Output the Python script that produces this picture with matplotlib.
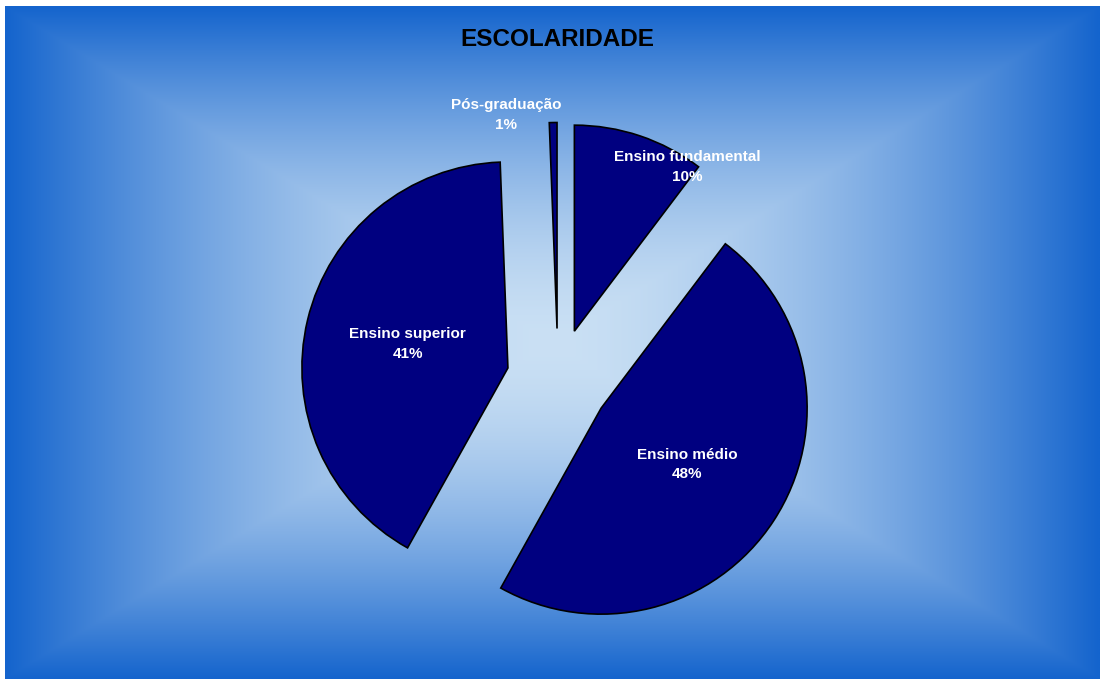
import numpy as np
import matplotlib
import matplotlib.pyplot as plt

matplotlib.use('Agg')
plt.rcParams['font.family'] = ['Liberation Sans', 'DejaVu Sans']

# dados (sentido horário a partir do topo)
categorias = ['Ensino fundamental', 'Ensino médio', 'Ensino superior', 'Pós-graduação']
valores = [10.3, 47.8, 41.3, 0.6]
percentuais = ['10%', '48%', '41%', '1%']

# posição dos rótulos: (distância do centro, desvio angular em graus)
rotulo_pos = [(1.21, -12.7), (0.75, 0.0), (0.75, 0.0), (1.31, 10.0)]

W, H = 1100, 679
fig = plt.figure(figsize=(W / 100, H / 100), dpi=100)
fig.patch.set_facecolor('white')

# fundo com gradiente retangular a partir do centro
bg = fig.add_axes([5 / W, 0, (W - 5) / W, (H - 6) / H])
bg.set_axis_off()
nx, ny = 600, 380
xx, yy = np.meshgrid(np.linspace(-1, 1, nx), np.linspace(-1, 1, ny))
t = np.maximum(np.abs(xx), np.abs(yy)) ** 1.65
centro = np.array([202, 224, 244]) / 255
borda = np.array([20, 100, 205]) / 255
img = centro[None, None, :] * (1 - t[..., None]) + borda[None, None, :] * t[..., None]
bg.imshow(img, aspect='auto', interpolation='bilinear')

# pizza
ax = fig.add_axes([0, 0, 1, 1])
ax.patch.set_alpha(0)
r_px = 206
cx, cy = 558, H - 380
wedges, _ = ax.pie(valores, startangle=90, counterclock=False, radius=1,
                   explode=[0.25] * len(valores), colors=['#000080'] * len(valores),
                   wedgeprops=dict(edgecolor='black', linewidth=1.2))
ax.set_aspect('auto')
ax.set_xlim(-cx / r_px, (W - cx) / r_px)
ax.set_ylim(-cy / r_px, (H - cy) / r_px)
ax.set_axis_off()

for w, nome, pct, (dist, desvio) in zip(wedges, categorias, percentuais, rotulo_pos):
    ang = np.deg2rad((w.theta1 + w.theta2) / 2 + desvio)
    ax.text(dist * np.cos(ang), dist * np.sin(ang), nome + '\n' + pct,
            ha='center', va='center', color='white', fontsize=11,
            fontweight='bold', linespacing=1.5)

fig.text(557 / W, 1 - 40 / H, 'ESCOLARIDADE', ha='center', va='center',
         fontsize=17.5, fontweight='bold', color='black')

fig.savefig('out.png', dpi=100)
